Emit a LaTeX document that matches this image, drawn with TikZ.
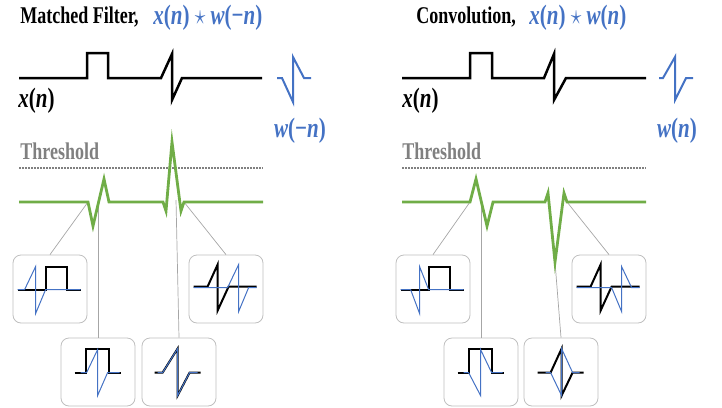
\documentclass[tikz,border=0pt]{standalone}
\usepackage{amsmath}
\usepackage{fontspec}
\setmainfont{Liberation Serif}
\usetikzlibrary{positioning}
\definecolor{wblue}{HTML}{4472C4}
\definecolor{outgreen}{HTML}{70AD47}
\definecolor{thrgray}{HTML}{808080}
\definecolor{boxgray}{HTML}{BFBFBF}
\definecolor{leadgray}{HTML}{A6A6A6}
\newcommand{\squeezetext}[1]{\scalebox{0.75}[1]{#1}}
\newcommand{\sigvar}[1]{\textbf{\textit{#1}}}

\tikzset{
  headtext/.style={inner sep=0pt, anchor=base west, font=\fontsize{12}{14}\selectfont\bfseries},
  mathtext/.style={inner sep=0pt, anchor=base west, text=wblue, font=\fontsize{14}{16}\selectfont\bfseries},
  sig/.style={line width=1.25pt},
  tmpl/.style={wblue, line width=1pt},
  outp/.style={outgreen, line width=1.4pt},
  thr/.style={thrgray, line width=1pt, dash pattern=on 0.75pt off 0.75pt},
  snapbox/.style={draw=boxgray, rounded corners=4pt, minimum width=37pt, minimum height=34pt, inner sep=0pt, line width=0.4pt},
  leader/.style={draw=leadgray, line width=0.35pt},
  slide/.style={line width=1pt},
  slidew/.style={wblue, line width=0.5pt},
}

\begin{document}
\begin{tikzpicture}[x=0.5pt, y=-0.5pt]
\useasboundingbox (0,0) rectangle (722,407);

% matched filter
\begin{scope}[name prefix=mf-]
  \node[headtext] (head) at (20,24) {\squeezetext{Matched Filter,}};
  \node[mathtext] (eq) at (153,25) {\squeezetext{\sigvar{x}(\sigvar{n}) $\star$ \sigvar{w}(−\sigvar{n})}};
  \draw[sig] (19,78) -- (87,78) -- (87,53) -- (108,53) -- (108,78) -- (161,78) -- (172,54) -- (172,100) -- (182,78) -- (262,78);
  \node[mathtext, text=black] (x) at (18,107) {\squeezetext{\sigvar{x}(\sigvar{n})}};
  \draw[tmpl] (277,78) -- (282,78) -- (293,102) -- (293,57) -- (304,78) -- (311,78);
  \node[mathtext, anchor=center] (w) at (300,131) {\squeezetext{\sigvar{w}(−\sigvar{n})}};
  \node[headtext, text=thrgray] (thr) at (20,159) {\squeezetext{Threshold}};
  \draw[thr] (19,168) -- (263,168);

  \node[snapbox] (b1) at (50,289) {};
  \node[snapbox] (b2) at (226,289) {};
  \node[snapbox] (b3) at (98,372) {};
  \node[snapbox] (b4) at (179,372) {};
  \coordinate (g1) at (88,202);
  \coordinate (g2) at (98,205);
  \coordinate (g3) at (176,200);
  \coordinate (g4) at (184,202);
  \draw[leader] (g1) -- (b1.north);
  \draw[leader] (g2) -- (b3.north);
  \draw[leader] (g3) -- (b4.north);
  \draw[leader] (g4) -- (b2.north);
  \draw[outp] (19,202) -- (g1) -- (93,226) -- (104,179) -- (109,202) -- (163,202) -- (166,211) -- (172,142) -- (181,211) -- (g4) -- (263,202);

  \begin{scope}[shift={(b1.north west)}]
    \draw[slide] (5,35) -- (33,35) -- (33,12) -- (54,12) -- (54,35) -- (68,35);
    \draw[slidew] (5,35) -- (12,35) -- (23,12) -- (23,59) -- (33,35) -- (68,35);
  \end{scope}
  \begin{scope}[shift={(b2.north west)}]
    \draw[slide] (5,32) -- (19,32) -- (29,10) -- (29,56) -- (40,32) -- (68,32);
    \draw[slidew] (5,33) -- (39,33) -- (50,10) -- (50,57) -- (60,33) -- (68,33);
  \end{scope}
  \begin{scope}[shift={(b3.north west)}]
    \draw[slide] (14,35) -- (25,35) -- (25,11) -- (48,11) -- (48,35) -- (60,35);
    \draw[slidew] (20,35) -- (26,35) -- (37,12) -- (37,58) -- (47,35) -- (59,35);
  \end{scope}
  \begin{scope}[shift={(b4.north west)}]
    \draw[slide] (13,35) -- (21,35) -- (36,11) -- (36,58) -- (48,35) -- (59,35);
    \draw[slidew] (16,35) -- (21,35) -- (36,11) -- (36,58) -- (48,35) -- (56,35);
  \end{scope}
\end{scope}

% convolution
\begin{scope}[name prefix=cv-, shift={(383,0)}]
  \node[headtext] (head) at (33,24) {\squeezetext{Convolution,}};
  \node[mathtext] (eq) at (146,25) {\squeezetext{\sigvar{x}(\sigvar{n}) $\star$ \sigvar{w}(\sigvar{n})}};
  \draw[sig] (19,78) -- (87,78) -- (87,53) -- (109,53) -- (109,78) -- (161,78) -- (171,54) -- (171,100) -- (183,78) -- (263,78);
  \node[mathtext, text=black] (x) at (19,107) {\squeezetext{\sigvar{x}(\sigvar{n})}};
  \draw[tmpl] (276,78) -- (280,78) -- (292,57) -- (292,100) -- (303,78) -- (310,78);
  \node[mathtext, anchor=center] (w) at (294,131) {\squeezetext{\sigvar{w}(\sigvar{n})}};
  \node[headtext, text=thrgray] (thr) at (19,159) {\squeezetext{Threshold}};
  \draw[thr] (19,168) -- (263,168);

  \node[snapbox] (b1) at (50,289) {};
  \node[snapbox] (b2) at (226,289) {};
  \node[snapbox] (b3) at (98,372) {};
  \node[snapbox] (b4) at (178,372) {};
  \coordinate (g1) at (87,202);
  \coordinate (g2) at (98,200);
  \coordinate (g3) at (172,262);
  \coordinate (g4) at (184,202);
  \draw[leader] (g1) -- (b1.north);
  \draw[leader] (g2) -- (b3.north);
  \draw[leader] (g3) -- (b4.north);
  \draw[leader] (g4) -- (b2.north);
  \draw[outp] (19,202) -- (g1) -- (93,179) -- (104,226) -- (110,202) -- (162,202) -- (165,193) -- (g3) -- (181,193) -- (g4) -- (263,202);

  \begin{scope}[shift={(b1.north west)}]
    \draw[slide] (5,35) -- (33,35) -- (33,12) -- (54,12) -- (54,35) -- (68,35);
    \draw[slidew] (5,35) -- (15,35) -- (24,59) -- (24,12) -- (33,35) -- (68,35);
  \end{scope}
  \begin{scope}[shift={(b2.north west)}]
    \draw[slide] (5,32) -- (19,32) -- (29,10) -- (29,56) -- (40,32) -- (68,32);
    \draw[slidew] (5,33) -- (40,33) -- (50,57) -- (50,12) -- (60,33) -- (68,33);
  \end{scope}
  \begin{scope}[shift={(b3.north west)}]
    \draw[slide] (14,35) -- (25,35) -- (25,11) -- (48,11) -- (48,35) -- (60,35);
    \draw[slidew] (20,35) -- (25,35) -- (37,58) -- (37,12) -- (48,35) -- (59,35);
  \end{scope}
  \begin{scope}[shift={(b4.north west)}]
    \draw[slide] (14,35) -- (27,35) -- (38,11) -- (38,58) -- (49,35) -- (60,35);
    \draw[slidew] (22,35) -- (27,35) -- (38,58) -- (38,11) -- (49,35) -- (56,35);
  \end{scope}
\end{scope}
\end{tikzpicture}
\end{document}
